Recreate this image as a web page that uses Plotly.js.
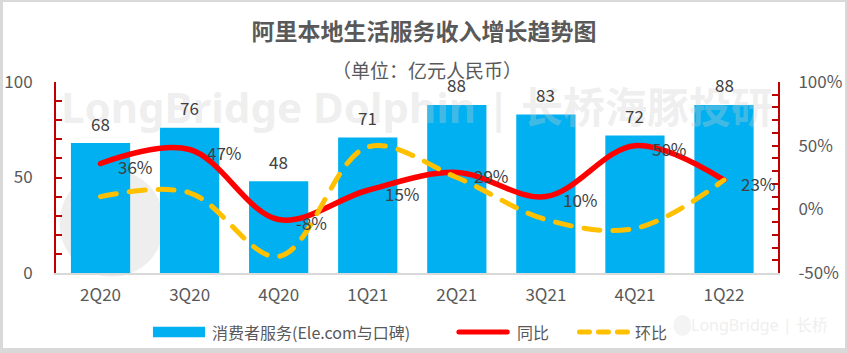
<!DOCTYPE html>
<html>
<head>
<meta charset="utf-8">
<script src="https://cdn.plot.ly/plotly-3.0.1.min.js"></script>
<style>
  html, body { margin: 0; padding: 0; background: #d9d9d9; width: 847px; height: 353px; overflow: hidden; }
  #chart { position: absolute; left: 3px; top: 2px; width: 842px; height: 346px; background: #fff; }
  .js-line, .shapelayer path { stroke-linecap: round; }
</style>
</head>
<body>
<div id="chart"></div>
<script>
// ---- data ----
const categories = ['2Q20', '3Q20', '4Q20', '1Q21', '2Q21', '3Q21', '4Q21', '1Q22'];
const consumerServices = [68, 76, 48, 71, 88, 83, 72, 88];   // 亿元人民币
const yoyGrowth = [0.36, 0.47, -0.08, 0.15, 0.29, 0.10, 0.50, 0.23]; // 同比
const qoqGrowth = [0.10, 0.13, -0.37, 0.49, 0.25, -0.08, -0.15, 0.23]; // 环比
const seriesNames = ['消费者服务(Ele.com与口碑)', '同比', '环比'];
const leftTicks = [0, 10, 20, 30, 40, 50, 60, 70, 80, 90, 100];
const rightTicks = [-0.5, -0.4, -0.3, -0.2, -0.1, 0, 0.1, 0.2, 0.3, 0.4, 0.5, 0.6, 0.7, 0.8, 0.9, 1.0];

const FONT = 'Noto Sans CJK SC, Noto Sans, sans-serif';
const GRAY = '#595959';
const LABEL = '#404040';
const AXISRED = '#c00000';
const BLUE = '#00b0f0', RED = '#ff0000', YELLOW = '#ffc000';

const pct = v => Math.round(v * 100) + '%';

const traces = [
  {
    type: 'bar', name: seriesNames[0], x: categories, y: consumerServices,
    marker: { color: BLUE }, hoverinfo: 'skip'
  },
  {
    type: 'scatter', mode: 'lines', name: seriesNames[1], x: categories, y: yoyGrowth, yaxis: 'y2',
    line: { color: RED, width: 5.5, shape: 'spline', smoothing: 1 }, hoverinfo: 'skip'
  },
  {
    type: 'scatter', mode: 'lines', name: seriesNames[2], x: categories, y: qoqGrowth, yaxis: 'y2',
    line: { color: YELLOW, width: 5, shape: 'spline', smoothing: 1, dash: '16px,13px' }, hoverinfo: 'skip'
  }
];

const annotations = [];
// watermark
annotations.push({
  xref: 'paper', yref: 'paper', x: 0.5, y: 0.87, xanchor: 'center', yanchor: 'middle',
  text: '<b>LongBridge Dolphin | 长桥海豚投研</b>', showarrow: false,
  font: { family: 'Noto Sans, Noto Sans CJK SC, sans-serif', size: 42, color: 'rgba(205,205,205,0.33)' }
});
annotations.push({
  xref: 'paper', yref: 'paper', x: 0.975, y: -0.27, xanchor: 'center', yanchor: 'middle',
  text: 'LongBridge | 长桥', showarrow: false,
  font: { family: 'Noto Sans, Noto Sans CJK SC, sans-serif', size: 16, color: '#efefef' }
});
// subtitle
annotations.push({
  xref: 'paper', yref: 'paper', x: 0.514, y: 1.063, xanchor: 'center', yanchor: 'middle',
  text: '（单位：亿元人民币）', showarrow: false,
  font: { family: FONT, size: 19, color: GRAY }
});
// bar labels
categories.forEach((c, i) => {
  annotations.push({
    x: c, y: consumerServices[i], xref: 'x', yref: 'y', text: String(consumerServices[i]),
    showarrow: false, yshift: 20, yanchor: 'middle',
    font: { family: FONT, size: 17, color: LABEL }
  });
});
// yoy labels
categories.forEach((c, i) => {
  annotations.push({
    x: c, y: yoyGrowth[i], xref: 'x', yref: 'y2', text: pct(yoyGrowth[i]),
    showarrow: false, xanchor: 'left', yanchor: 'middle', xshift: 15, yshift: -3,
    font: { family: FONT, size: 17, color: LABEL }
  });
});

// custom legend (paper coordinates, below the plot)
const LY = -0.309;
const legendText = [
  [seriesNames[0], 0.2133],
  [seriesNames[1], 0.6357],
  [seriesNames[2], 0.7992]
];
legendText.forEach(([t, x]) => annotations.push({
  xref: 'paper', yref: 'paper', x: x, y: LY, xanchor: 'left', yanchor: 'middle', showarrow: false,
  text: t, font: { family: FONT, size: 16, color: GRAY }
}));

const layout = {
  margin: { l: 53, r: 67, t: 80, b: 75 },
  paper_bgcolor: '#ffffff', plot_bgcolor: 'rgba(0,0,0,0)',
  font: { family: FONT, color: GRAY },
  title: {
    text: '<b>阿里本地生活服务收入增长趋势图</b>', xref: 'container', x: 0.5, xanchor: 'center',
    yref: 'container', y: 0.913, yanchor: 'middle',
    font: { family: FONT, size: 23, color: GRAY }
  },
  bargap: 0.335,
  showlegend: false,
  xaxis: {
    type: 'category', showgrid: false, zeroline: false,
    showline: true, linecolor: '#d9d9d9', linewidth: 2,
    ticks: '', tickfont: { family: FONT, size: 17, color: GRAY }, ticklabelstandoff: 6
  },
  yaxis: {
    range: [0, 100], showgrid: false, zeroline: false,
    showline: true, linecolor: AXISRED, linewidth: 2,
    ticks: 'inside', ticklen: 6, tickwidth: 2, tickcolor: AXISRED,
    tickvals: leftTicks, ticktext: leftTicks.map(v => (v % 50 === 0 ? String(v) : '')),
    tickfont: { family: FONT, size: 17, color: GRAY }, ticklabelstandoff: 18
  },
  yaxis2: {
    overlaying: 'y', side: 'right', range: [-0.5, 1.0], showgrid: false, zeroline: false,
    showline: true, linecolor: AXISRED, linewidth: 2,
    ticks: 'inside', ticklen: 6, tickwidth: 2, tickcolor: AXISRED,
    tickvals: rightTicks, ticktext: rightTicks.map(v => (Math.round(v * 100) % 50 === 0 ? pct(v) : '')),
    tickfont: { family: FONT, size: 17, color: GRAY }, ticklabelstandoff: 15
  },
  shapes: [
    { type: 'circle', xref: 'paper', yref: 'paper', layer: 'below',
      x0: 0.005, x1: 0.15, y0: -0.02, y1: 0.54, fillcolor: '#eeeeee', line: { width: 0 } },
    { type: 'circle', xref: 'paper', yref: 'paper', layer: 'below',
      x0: 0.855, x1: 0.88, y0: -0.33, y1: -0.22, fillcolor: '#f4f4f4', line: { width: 0 } },
    // legend swatches
    { type: 'rect', xref: 'paper', yref: 'paper', x0: 0.1343, x1: 0.2064,
      y0: LY - 0.028, y1: LY + 0.028, fillcolor: BLUE, line: { width: 0 } },
    { type: 'line', xref: 'paper', yref: 'paper', x0: 0.558, x1: 0.625,
      y0: LY, y1: LY, line: { color: RED, width: 5 } },
    { type: 'line', xref: 'paper', yref: 'paper', x0: 0.725, x1: 0.793,
      y0: LY, y1: LY, line: { color: YELLOW, width: 5, dash: '10px,9px' } }
  ],
  annotations: annotations
};

Plotly.newPlot('chart', traces, layout, { displayModeBar: false, staticPlot: true });
</script>
</body>
</html>
